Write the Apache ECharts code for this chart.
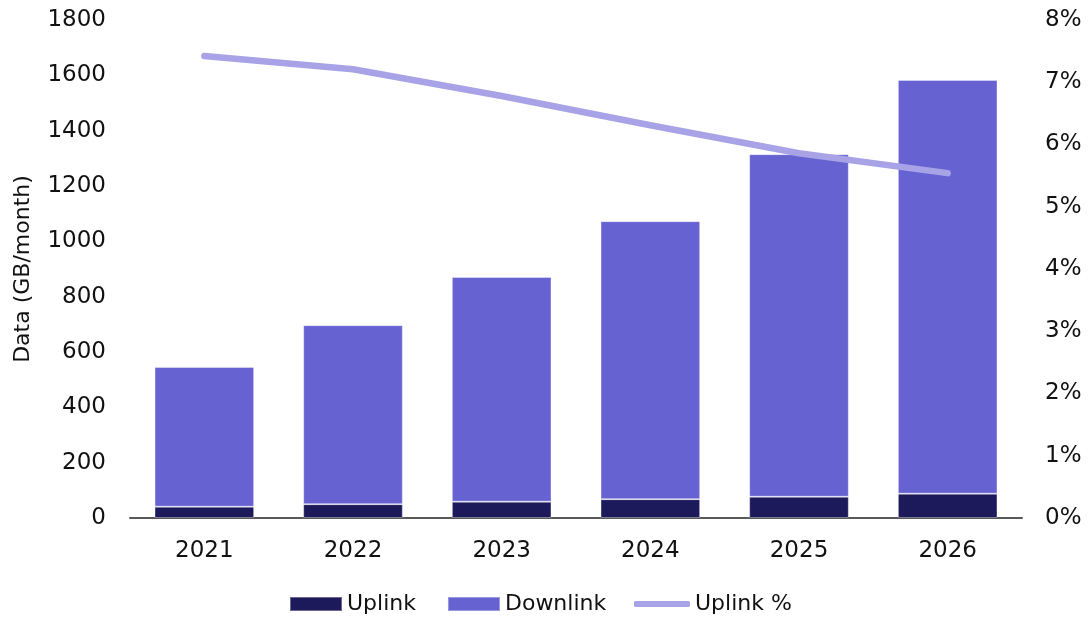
<!DOCTYPE html>
<html>
<head>
<meta charset="utf-8">
<script src="https://cdn.jsdelivr.net/npm/echarts@6/dist/echarts.min.js"></script>
<style>
  html, body { margin: 0; padding: 0; background: #fff; }
  #chart { width: 1088px; height: 621px; }
</style>
</head>
<body>
<div id="chart"></div>
<script>
// Monthly data per device, split into uplink and downlink
const years = ['2021', '2022', '2023', '2024', '2025', '2026'];
const uplink = [41, 50, 59, 68, 77, 88];
const downlink = [505, 647, 812, 1005, 1238, 1495];
const uplinkPct = [7.42, 7.21, 6.78, 6.31, 5.86, 5.54];

const FONT = '"DejaVu Sans", Verdana, sans-serif';
const textColor = '#111';
const UP_COLOR = '#1c1a5a';
const DOWN_COLOR = '#6762d2';
const PCT_COLOR = '#a7a3e6';

const chart = echarts.init(document.getElementById('chart'), null, { renderer: 'canvas' });

const legendText = { fontFamily: FONT, fontSize: 22, color: textColor };

chart.setOption({
  animation: false,
  textStyle: { fontFamily: FONT },
  grid: { left: 130, right: 66, top: 20, bottom: 103, containLabel: false },
  legend: [
    {
      // bar series swatches
      left: 289,
      top: 593,
      padding: 0,
      itemWidth: 52,
      itemHeight: 14,
      itemGap: 31,
      textStyle: legendText,
      data: [
        { name: 'Uplink', icon: 'rect' },
        { name: 'Downlink', icon: 'rect' }
      ]
    },
    {
      // line series swatch
      left: 634,
      top: 593,
      padding: 0,
      itemWidth: 56,
      itemHeight: 6,
      textStyle: legendText,
      data: [{ name: 'Uplink %', icon: 'roundRect' }]
    }
  ],
  xAxis: {
    type: 'category',
    data: years,
    axisLine: { lineStyle: { color: '#595959', width: 2 } },
    axisTick: { show: false },
    axisLabel: { fontFamily: FONT, fontSize: 23, color: textColor, margin: 22 }
  },
  yAxis: [
    {
      type: 'value',
      min: 0, max: 1800, interval: 200,
      name: 'Data (GB/month)',
      nameLocation: 'middle',
      nameGap: 96,
      nameRotate: 90,
      nameTextStyle: { fontFamily: FONT, fontSize: 22, color: textColor },
      axisLine: { show: false },
      axisTick: { show: false },
      splitLine: { show: false },
      axisLabel: { fontFamily: FONT, fontSize: 23, color: textColor, margin: 24, formatter: v => String(v) }
    },
    {
      type: 'value',
      min: 0, max: 8, interval: 1,
      position: 'right',
      axisLine: { show: false },
      axisTick: { show: false },
      splitLine: { show: false },
      axisLabel: { fontFamily: FONT, fontSize: 23, color: textColor, margin: 23, formatter: '{value}%' }
    }
  ],
  series: [
    {
      name: 'Uplink',
      type: 'bar',
      stack: 'data',
      data: uplink,
      barWidth: '67%',
      itemStyle: { color: UP_COLOR, borderColor: 'rgba(255,255,255,0.35)', borderWidth: 1 }
    },
    {
      name: 'Downlink',
      type: 'bar',
      stack: 'data',
      data: downlink,
      itemStyle: { color: DOWN_COLOR, borderColor: 'rgba(255,255,255,0.35)', borderWidth: 1 }
    },
    {
      name: 'Uplink %',
      type: 'line',
      yAxisIndex: 1,
      data: uplinkPct,
      symbol: 'none',
      lineStyle: { color: PCT_COLOR, width: 6.5, cap: 'round' },
      itemStyle: { color: PCT_COLOR }
    }
  ]
});
</script>
</body>
</html>
